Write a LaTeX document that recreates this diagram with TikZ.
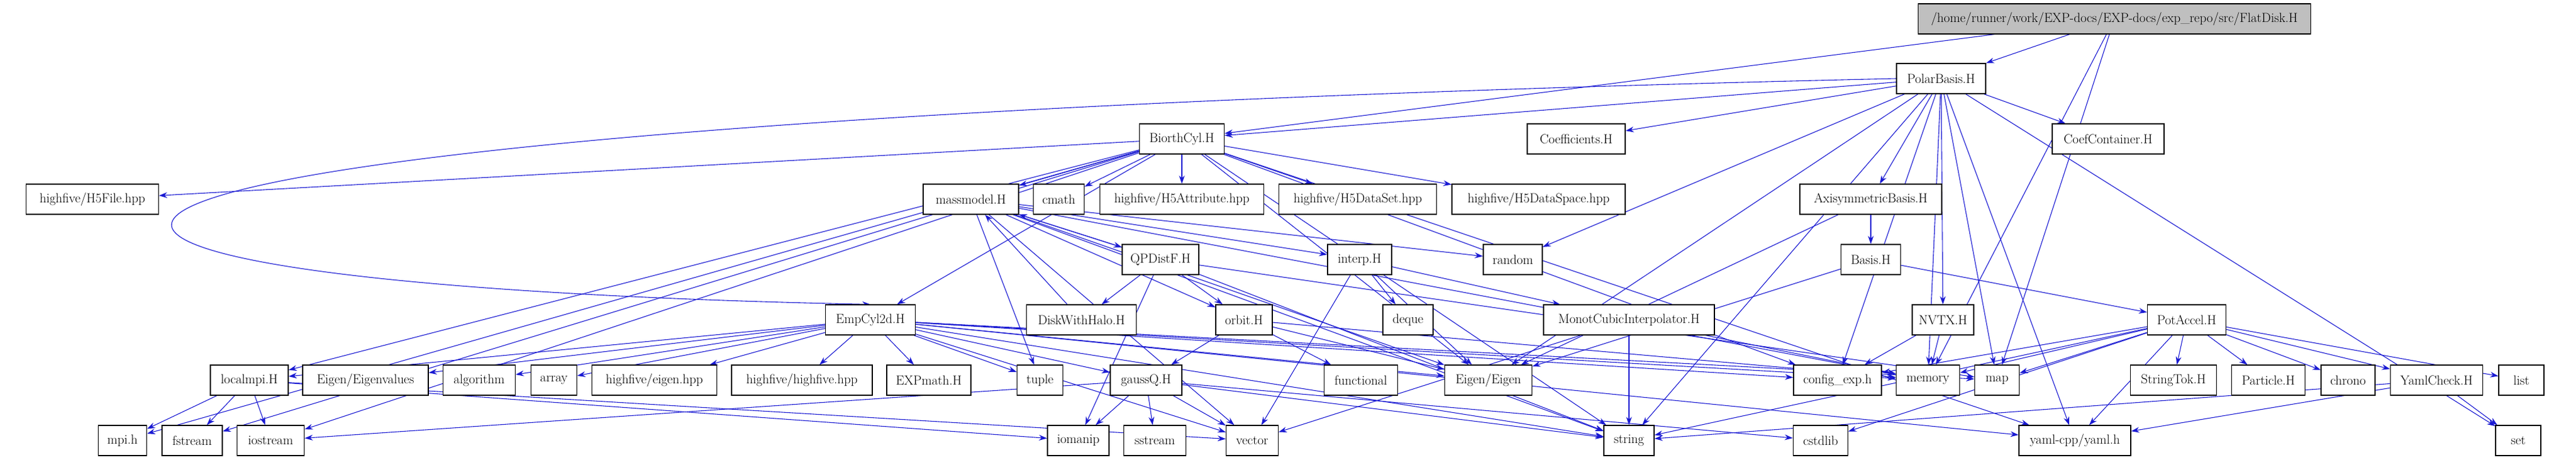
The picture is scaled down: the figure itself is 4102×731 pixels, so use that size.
\documentclass[tikz,border=0pt]{standalone}
\usetikzlibrary{arrows.meta}
\pgfdeclarelayer{bg}
\pgfsetlayers{bg,main}
\begin{document}
\begin{tikzpicture}[x=1pt,y=-1pt,
 box/.style={draw=black,fill=white,line width=1.2pt,minimum height=48pt,inner sep=0pt,font=\fontsize{21}{23}\selectfont},
 e/.style={draw={rgb,255:red,25;green,25;blue,210},line width=1.1pt,-{Stealth[length=13pt,width=9pt]}}]
\useasboundingbox (0,0) rectangle (4102,731);
\def\N#1#2#3#4#5{\node[box,minimum width=#3pt] (#1) at (#2,#4) {#5};}
\node[box,fill={rgb,255:red,191;green,191;blue,191},minimum width=625pt] (flat) at (3367,30) {/home/runner/work/EXP-docs/EXP-docs/exp\_repo/src/FlatDisk.H};
\N{polar}{3091}{142}{125}{PolarBasis.H}
\N{biorth}{1882}{135}{221}{BiorthCyl.H}
\N{coeff}{2510}{156}{221}{Coefficients.H}
\N{coefc}{3357}{178}{221}{CoefContainer.H}
\N{h5file}{147}{211}{317}{highfive/H5File.hpp}
\N{mass}{1546}{152}{317}{massmodel.H}
\N{cmath}{1686}{81}{317}{cmath}
\N{h5attr}{1882}{261}{317}{highfive/H5Attribute.hpp}
\N{h5set}{2162}{251}{317}{highfive/H5DataSet.hpp}
\N{h5space}{2450}{276}{317}{highfive/H5DataSpace.hpp}
\N{axis}{2979}{226}{317}{AxisymmetricBasis.H}
\N{qpd}{1848}{122}{413}{QPDistF.H}
\N{interp}{2165}{102}{413}{interp.H}
\N{random}{2409}{94}{413}{random}
\N{basis}{2979}{95}{413}{Basis.H}
\N{empcyl}{1386}{143}{509}{EmpCyl2d.H}
\N{dwh}{1722}{175}{509}{DiskWithHalo.H}
\N{orbit}{1981}{90}{509}{orbit.H}
\N{deque}{2242}{80}{509}{deque}
\N{monot}{2594}{272}{509}{MonotCubicInterpolator.H}
\N{nvtx}{3094}{98}{509}{NVTX.H}
\N{pot}{3482}{125}{509}{PotAccel.H}
\N{lmpi}{397}{124}{605}{localmpi.H}
\N{eval}{582}{200}{605}{Eigen/Eigenvalues}
\N{algo}{763}{115}{605}{algorithm}
\N{array}{882}{73}{605}{array}
\N{heig}{1042}{199}{605}{highfive/eigen.hpp}
\N{hhf}{1277}{224}{605}{highfive/highfive.hpp}
\N{expm}{1479}{134}{605}{EXPmath.H}
\N{tuple}{1656}{73}{605}{tuple}
\N{gauss}{1825}{114}{605}{gaussQ.H}
\N{func}{2167}{117}{605}{functional}
\N{eig}{2370}{139}{605}{Eigen/Eigen}
\N{conf}{2926}{140}{605}{config\_exp.h}
\N{mem}{3070}{101}{605}{memory}
\N{map}{3180}{71}{605}{map}
\N{stok}{3461}{137}{605}{StringTok.H}
\N{part}{3612}{117}{605}{Particle.H}
\N{chrono}{3739}{86}{605}{chrono}
\N{ycheck}{3880}{147}{605}{YamlCheck.H}
\N{list}{4015}{72}{605}{list}
\N{mpi}{195}{77}{701}{mpi.h}
\N{fstream}{306}{96}{701}{fstream}
\N{iostream}{431}{107}{701}{iostream}
\N{iomanip}{1717}{98}{701}{iomanip}
\N{sstream}{1839}{99}{701}{sstream}
\N{vector}{1994}{83}{701}{vector}
\N{string}{2594}{80}{701}{string}
\N{cstdlib}{2899}{87}{701}{cstdlib}
\N{yaml}{3304}{178}{701}{yaml-cpp/yaml.h}
\N{set}{4010}{72}{701}{set}
\begin{pgfonlayer}{bg}
\foreach \a/\b in {flat/polar,flat/biorth,flat/mem,flat/map,
 polar/biorth,polar/coeff,polar/coefc,polar/axis,polar/random,polar/eig,polar/conf,polar/mem,polar/map,polar/nvtx,polar/string,polar/yaml,polar/set,
 biorth/h5file,biorth/mass,biorth/cmath,biorth/h5attr,biorth/h5set,biorth/h5space,biorth/empcyl,biorth/lmpi,biorth/mpi,biorth/fstream,biorth/iostream,biorth/eig,biorth/string,biorth/conf,biorth/yaml,
 mass/qpd,mass/interp,mass/random,mass/orbit,mass/tuple,mass/vector,mass/eig,mass/mem,mass/string,
 qpd/mass,qpd/dwh,qpd/orbit,qpd/iomanip,qpd/string,qpd/map,dwh/mass,
 interp/deque,interp/eig,interp/vector,interp/monot,
 orbit/gauss,orbit/func,orbit/eig,orbit/mem,
 monot/vector,monot/string,monot/mem,
 empcyl/lmpi,empcyl/eval,empcyl/algo,empcyl/array,empcyl/heig,empcyl/hhf,empcyl/expm,empcyl/tuple,empcyl/gauss,empcyl/vector,empcyl/string,empcyl/eig,empcyl/conf,empcyl/mem,empcyl/map,empcyl/yaml,
 lmpi/mpi,lmpi/fstream,lmpi/iostream,lmpi/iomanip,lmpi/vector,
 gauss/iostream,gauss/iomanip,gauss/sstream,gauss/vector,gauss/string,gauss/cstdlib,
 axis/basis,axis/eig,basis/pot,basis/eig,nvtx/conf,nvtx/mem,
 pot/conf,pot/mem,pot/map,pot/stok,pot/part,pot/chrono,pot/ycheck,pot/list,pot/yaml,pot/string,pot/cstdlib,
 ycheck/set,ycheck/yaml,ycheck/string}
 {\path[e] (\a) -- (\b);}
\path[e] (polar.west) .. controls (-300,200) and (-300,450) .. (empcyl.north);
\end{pgfonlayer}
\end{tikzpicture}
\end{document}
